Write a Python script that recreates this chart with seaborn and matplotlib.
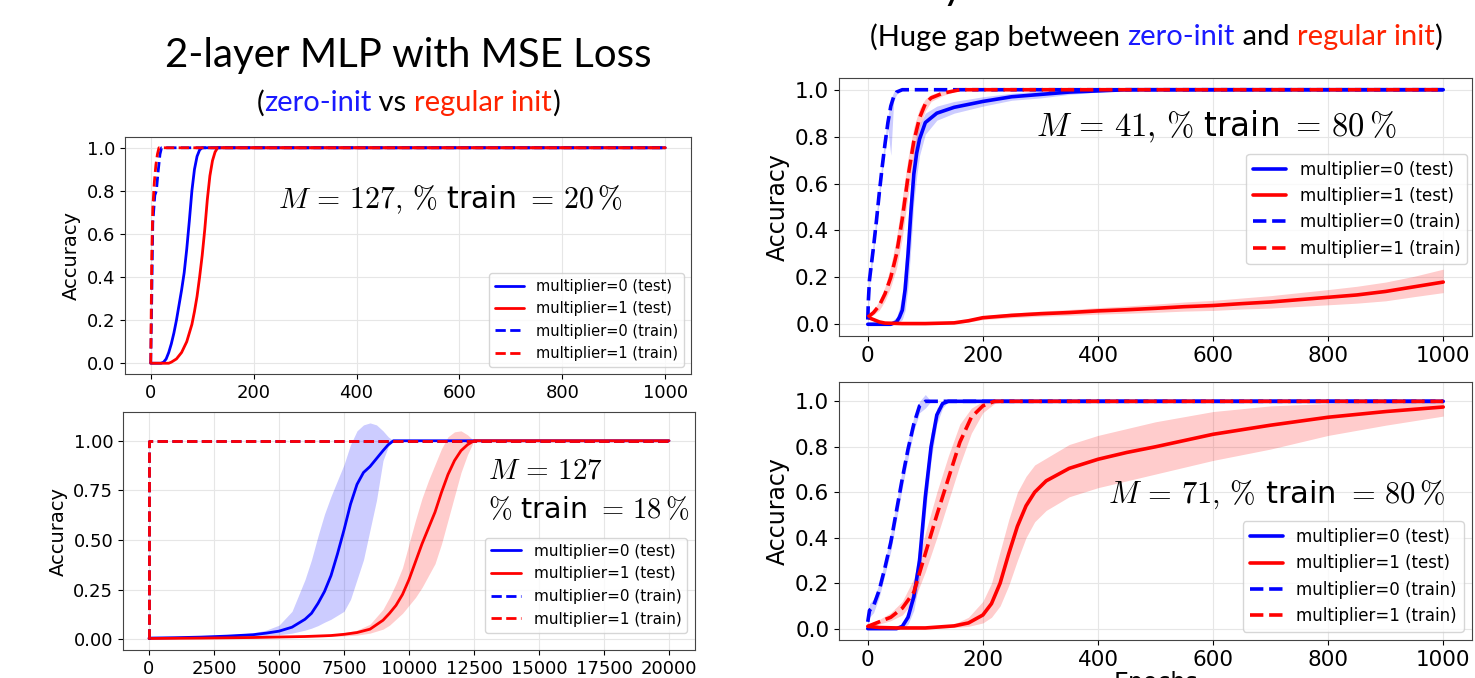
import numpy as np
import pandas as pd
import matplotlib
matplotlib.use("Agg")
import matplotlib.pyplot as plt
import seaborn as sns

# ---------------- data ----------------
# Top-left: 2-layer MLP, MSE, M=127, 20% train
tl_test0_ep = [0, 20, 25, 30, 35, 40, 45, 50, 55, 60, 65, 70, 75, 80, 85, 90, 95, 100, 1000]
tl_test0_acc = [0, 0, 0.005, 0.02, 0.05, 0.09, 0.14, 0.2, 0.27, 0.34, 0.42, 0.53, 0.66, 0.8, 0.9, 0.96, 0.99, 1.0, 1.0]
tl_test1_ep = [0, 35, 40, 50, 60, 70, 75, 80, 85, 90, 95, 100, 105, 110, 115, 120, 125, 130, 1000]
tl_test1_acc = [0, 0, 0.005, 0.02, 0.05, 0.1, 0.14, 0.18, 0.24, 0.31, 0.4, 0.5, 0.62, 0.76, 0.87, 0.94, 0.98, 1.0, 1.0]
tl_train0_ep = [0, 2, 4, 8, 11, 14, 18, 21, 1000]
tl_train0_acc = [0, 0.3, 0.65, 0.78, 0.8, 0.88, 0.97, 1.0, 1.0]
tl_train1_ep = [0, 2, 4, 7, 10, 13, 16, 1000]
tl_train1_acc = [0, 0.5, 0.72, 0.84, 0.92, 0.97, 1.0, 1.0]

# Bottom-left: M=127, 18% train
bl_test0_ep = [0, 1000, 2000, 3000, 4000, 4500, 5000, 5500, 6000, 6250, 6500, 6750, 7000, 7250, 7500, 7750, 8000, 8250, 8500, 8750, 9000, 9200, 9400, 20000]
bl_test0_acc = [0.005, 0.007, 0.01, 0.015, 0.022, 0.03, 0.04, 0.06, 0.1, 0.13, 0.18, 0.24, 0.32, 0.43, 0.55, 0.68, 0.78, 0.84, 0.87, 0.91, 0.95, 0.98, 1.0, 1.0]
bl_test0_hi = [0.005, 0.008, 0.012, 0.02, 0.032, 0.045, 0.07, 0.14, 0.3, 0.4, 0.52, 0.63, 0.72, 0.8, 0.88, 0.98, 1.05, 1.08, 1.09, 1.08, 1.05, 1.02, 1.0, 1.0]
bl_test0_lo = [0.005, 0.006, 0.008, 0.011, 0.015, 0.018, 0.022, 0.03, 0.045, 0.055, 0.068, 0.085, 0.1, 0.12, 0.14, 0.2, 0.3, 0.4, 0.55, 0.7, 0.9, 0.97, 1.0, 1.0]
bl_test1_ep = [0, 2000, 4000, 6000, 7000, 7500, 8000, 8500, 9000, 9250, 9500, 9750, 10000, 10250, 10500, 10750, 11000, 11250, 11500, 11750, 12000, 12250, 12500, 20000]
bl_test1_acc = [0.003, 0.005, 0.008, 0.013, 0.018, 0.024, 0.033, 0.05, 0.095, 0.13, 0.17, 0.225, 0.3, 0.39, 0.48, 0.56, 0.64, 0.74, 0.83, 0.9, 0.95, 0.98, 1.0, 1.0]
bl_test1_hi = [0.003, 0.005, 0.009, 0.016, 0.024, 0.032, 0.045, 0.075, 0.15, 0.21, 0.28, 0.36, 0.48, 0.6, 0.71, 0.8, 0.88, 0.96, 1.02, 1.045, 1.05, 1.03, 1.0, 1.0]
bl_test1_lo = [0.003, 0.005, 0.007, 0.01, 0.013, 0.016, 0.02, 0.03, 0.05, 0.07, 0.1, 0.13, 0.17, 0.21, 0.26, 0.32, 0.38, 0.48, 0.6, 0.72, 0.84, 0.93, 1.0, 1.0]
bl_train_ep = [0, 0, 20000]
bl_train_acc = [0.0, 1.0, 1.0]

# Top-right: M=41, 80% train
tr_train0_ep = [0, 1, 3, 6, 10, 15, 20, 25, 30, 35, 40, 45, 50, 60, 80, 1000]
tr_train0_acc = [0.02, 0.1, 0.19, 0.25, 0.33, 0.44, 0.56, 0.67, 0.77, 0.86, 0.93, 0.97, 0.99, 1.0, 1.0, 1.0]
tr_train0_hi = [0.03, 0.14, 0.22, 0.28, 0.36, 0.47, 0.59, 0.7, 0.8, 0.89, 0.96, 0.99, 1.0, 1.0, 1.0, 1.0]
tr_train0_lo = [0.01, 0.06, 0.16, 0.22, 0.3, 0.41, 0.53, 0.64, 0.74, 0.83, 0.72, 0.95, 0.98, 1.0, 1.0, 1.0]
tr_train1_ep = [0, 10, 20, 30, 40, 50, 60, 70, 80, 90, 100, 110, 130, 160, 200, 1000]
tr_train1_acc = [0.03, 0.05, 0.08, 0.13, 0.2, 0.3, 0.45, 0.63, 0.78, 0.88, 0.94, 0.965, 0.985, 1.0, 1.0, 1.0]
tr_train1_hi = [0.035, 0.06, 0.1, 0.16, 0.25, 0.37, 0.54, 0.71, 0.84, 0.92, 0.96, 0.98, 0.995, 1.0, 1.0, 1.0]
tr_train1_lo = [0.025, 0.04, 0.06, 0.1, 0.16, 0.24, 0.37, 0.55, 0.71, 0.84, 0.91, 0.95, 0.975, 1.0, 1.0, 1.0]
tr_test0_ep = [0, 20, 40, 50, 55, 60, 65, 70, 75, 80, 85, 90, 100, 120, 150, 200, 250, 300, 350, 400, 450, 500, 1000]
tr_test0_acc = [0.0, 0.0, 0.0, 0.01, 0.03, 0.06, 0.15, 0.3, 0.48, 0.64, 0.73, 0.79, 0.86, 0.9, 0.925, 0.95, 0.97, 0.98, 0.99, 0.995, 1.0, 1.0, 1.0]
tr_test0_hi = [0.01, 0.01, 0.01, 0.03, 0.07, 0.13, 0.27, 0.44, 0.6, 0.74, 0.81, 0.85, 0.9, 0.93, 0.95, 0.97, 0.985, 0.995, 1.0, 1.0, 1.0, 1.0, 1.0]
tr_test0_lo = [0.0, 0.0, 0.0, 0.0, 0.01, 0.02, 0.06, 0.16, 0.33, 0.52, 0.63, 0.72, 0.81, 0.87, 0.9, 0.93, 0.955, 0.965, 0.98, 0.99, 1.0, 1.0, 1.0]
tr_test1_ep = [0, 10, 20, 30, 60, 100, 150, 175, 200, 250, 300, 350, 400, 450, 500, 550, 600, 650, 700, 750, 800, 850, 900, 950, 1000]
tr_test1_acc = [0.03, 0.02, 0.01, 0.005, 0.003, 0.003, 0.006, 0.015, 0.028, 0.038, 0.045, 0.05, 0.057, 0.062, 0.068, 0.075, 0.08, 0.088, 0.095, 0.105, 0.115, 0.125, 0.14, 0.16, 0.18]
tr_test1_hi = [0.035, 0.025, 0.015, 0.01, 0.006, 0.006, 0.01, 0.022, 0.036, 0.048, 0.056, 0.063, 0.071, 0.078, 0.086, 0.095, 0.102, 0.112, 0.122, 0.135, 0.148, 0.162, 0.18, 0.205, 0.235]
tr_test1_lo = [0.025, 0.015, 0.006, 0.002, 0.0, 0.0, 0.003, 0.009, 0.02, 0.028, 0.034, 0.038, 0.043, 0.047, 0.051, 0.056, 0.059, 0.065, 0.069, 0.076, 0.083, 0.09, 0.1, 0.118, 0.135]

# Bottom-right: M=71, 80% train
br_train0_ep = [0, 3, 10, 20, 30, 40, 50, 60, 70, 80, 90, 100, 110, 1000]
br_train0_acc = [0.03, 0.08, 0.1, 0.17, 0.27, 0.38, 0.52, 0.66, 0.79, 0.9, 0.98, 1.0, 1.0, 1.0]
br_train0_hi = [0.05, 0.11, 0.13, 0.2, 0.3, 0.42, 0.56, 0.7, 0.83, 0.93, 1.0, 1.03, 1.0, 1.0]
br_train0_lo = [0.01, 0.05, 0.07, 0.14, 0.24, 0.34, 0.48, 0.62, 0.75, 0.87, 0.95, 0.97, 1.0, 1.0]
br_test0_ep = [0, 20, 50, 60, 70, 80, 90, 100, 110, 120, 130, 140, 1000]
br_test0_acc = [0.0, 0.0, 0.0, 0.01, 0.05, 0.14, 0.3, 0.58, 0.8, 0.94, 0.99, 1.0, 1.0]
br_test0_hi = [0.0, 0.0, 0.005, 0.02, 0.08, 0.2, 0.38, 0.66, 0.86, 0.97, 1.0, 1.0, 1.0]
br_test0_lo = [0.0, 0.0, 0.0, 0.0, 0.02, 0.08, 0.22, 0.5, 0.74, 0.9, 0.97, 1.0, 1.0]
br_train1_ep = [0, 20, 40, 60, 80, 100, 120, 140, 160, 180, 200, 220, 240, 1000]
br_train1_acc = [0.01, 0.03, 0.05, 0.09, 0.16, 0.33, 0.5, 0.66, 0.82, 0.93, 0.98, 1.0, 1.0, 1.0]
br_train1_hi = [0.02, 0.04, 0.07, 0.12, 0.22, 0.42, 0.6, 0.76, 0.9, 0.97, 1.0, 1.0, 1.0, 1.0]
br_train1_lo = [0.0, 0.02, 0.035, 0.06, 0.12, 0.25, 0.4, 0.56, 0.72, 0.86, 0.95, 0.99, 1.0, 1.0]
br_test1_ep = [0, 20, 50, 100, 150, 175, 200, 215, 230, 245, 260, 275, 290, 310, 350, 400, 450, 500, 600, 700, 800, 900, 1000]
br_test1_acc = [0.01, 0.005, 0.003, 0.003, 0.012, 0.025, 0.06, 0.11, 0.2, 0.33, 0.45, 0.54, 0.6, 0.65, 0.705, 0.745, 0.775, 0.8, 0.855, 0.895, 0.93, 0.955, 0.975]
br_test1_hi = [0.015, 0.008, 0.006, 0.006, 0.02, 0.05, 0.12, 0.2, 0.34, 0.48, 0.6, 0.67, 0.72, 0.75, 0.81, 0.85, 0.88, 0.91, 0.955, 0.98, 0.99, 1.0, 1.0]
br_test1_lo = [0.005, 0.002, 0.0, 0.0, 0.005, 0.01, 0.025, 0.05, 0.1, 0.19, 0.3, 0.4, 0.47, 0.52, 0.58, 0.62, 0.65, 0.68, 0.74, 0.79, 0.85, 0.895, 0.935]

labels = ["multiplier=0 (test)", "multiplier=1 (test)",
          "multiplier=0 (train)", "multiplier=1 (train)"]

# ---------------- style ----------------
sns.set_style("whitegrid", rc={
    "axes.edgecolor": "#444444",
    "axes.linewidth": 1.0,
    "grid.color": "#e6e6e6",
    "grid.linewidth": 0.9,
    "xtick.bottom": True,
    "ytick.left": True,
    "xtick.major.size": 3.5,
    "ytick.major.size": 3.5,
    "xtick.color": "black",
    "ytick.color": "black",
    "text.color": "black",
    "axes.labelcolor": "black",
})
plt.rcParams["font.family"] = ["DejaVu Sans"]
plt.rcParams["mathtext.fontset"] = "cm"

W, H = 1475, 678
fig = plt.figure(figsize=(W / 100, H / 100), dpi=100)
renderer = fig.canvas.get_renderer()


def px_axes(l, t, r, b):
    return fig.add_axes([l / W, 1 - b / H, (r - l) / W, (b - t) / H])


BLUE, RED = "#0000ff", "#ff0000"


def panel(ax, test0, test1, train0, train1, lw_test, lw_train):
    for (ep, acc, hi, lo), col in ((test0, BLUE), (test1, RED), (train0, BLUE), (train1, RED)):
        if hi is not None:
            ax.fill_between(ep, lo, hi, color=col, alpha=0.2, linewidth=0)
    specs = [(test0, BLUE, "-", lw_test, labels[0]),
             (test1, RED, "-", lw_test, labels[1]),
             (train0, BLUE, "--", lw_train, labels[2]),
             (train1, RED, "--", lw_train, labels[3])]
    for (ep, acc, hi, lo), col, ls, lw, lab in specs:
        sns.lineplot(x=ep, y=acc, ax=ax, color=col, linestyle=ls, linewidth=lw,
                     label=lab, estimator=None, sort=False)


def colored_line(pieces, xc, y, size, family):
    full = ""
    offs = []
    probe = fig.text(0, 0, "x", fontsize=size, family=family)
    wx = probe.get_window_extent(renderer).width
    for s, c in pieces:
        probe.set_text(full + "x")
        offs.append(probe.get_window_extent(renderer).width - wx if full else 0.0)
        full += s
    probe.set_text(full)
    total = probe.get_window_extent(renderer).width
    probe.remove()
    x0 = xc - total / 2
    for (s, c), o in zip(pieces, offs):
        fig.text((x0 + o) / W, 1 - y / H, s, color=c, fontsize=size, family=family,
                 va="center", ha="left")


def mtext(m, pct):
    return (r"$M\,=\,%s,\,\%%$" % m) + " train " + (r"$=\,%s\,\%%$" % pct)


# ---------------- top-left ----------------
ax = px_axes(125, 137, 691, 374)
panel(ax, (tl_test0_ep, tl_test0_acc, None, None), (tl_test1_ep, tl_test1_acc, None, None),
      (tl_train0_ep, tl_train0_acc, None, None), (tl_train1_ep, tl_train1_acc, None, None), 2.0, 2.0)
ax.set_xlim(-50, 1050)
ax.set_ylim(-0.05, 1.05)
ax.set_xticks(np.arange(0, 1001, 200))
ax.set_yticks(np.arange(0, 1.01, 0.2))
ax.set_yticklabels([f"{v:.1f}" for v in np.arange(0, 1.01, 0.2)])
ax.tick_params(labelsize=13)
ax.set_ylabel("Accuracy", fontsize=14)
ax.set_xlabel("")
ax.legend(loc="lower right", fontsize=10.5, framealpha=0.8, edgecolor="#cccccc")
ax.text(583, 0.76, mtext("127", "20"), fontsize=21.5, ha="center", va="center")

# ---------------- bottom-left ----------------
ax = px_axes(123, 412, 695, 650)
panel(ax, (bl_test0_ep, bl_test0_acc, bl_test0_hi, bl_test0_lo),
      (bl_test1_ep, bl_test1_acc, bl_test1_hi, bl_test1_lo),
      (bl_train_ep, bl_train_acc, None, None), (bl_train_ep, bl_train_acc, None, None), 2.0, 2.0)
ax.set_xlim(-1000, 21000)
ax.set_ylim(-0.055, 1.145)
ax.set_xticks(np.arange(0, 20001, 2500))
ax.set_yticks(np.arange(0, 1.01, 0.25))
ax.set_yticklabels([f"{v:.2f}" for v in np.arange(0, 1.01, 0.25)])
ax.tick_params(labelsize=13)
ax.set_ylabel("Accuracy", fontsize=14)
ax.set_xlabel("")
ax.legend(loc="lower right", fontsize=11, framealpha=0.8, edgecolor="#cccccc",
          bbox_to_anchor=(1.0, 0.04))
ax.text(13040, 0.85, r"$M\,=\,127$", fontsize=21, ha="left", va="center")
ax.text(13040, 0.65, r"$\%$" + " train " + r"$=\,18\,\%$", fontsize=20.5, ha="left", va="center")

# ---------------- top-right ----------------
ax = px_axes(839, 78, 1472, 336)
panel(ax, (tr_test0_ep, tr_test0_acc, tr_test0_hi, tr_test0_lo),
      (tr_test1_ep, tr_test1_acc, tr_test1_hi, tr_test1_lo),
      (tr_train0_ep, tr_train0_acc, tr_train0_hi, tr_train0_lo),
      (tr_train1_ep, tr_train1_acc, tr_train1_hi, tr_train1_lo), 2.6, 2.6)
ax.set_xlim(-50, 1050)
ax.set_ylim(-0.05, 1.05)
ax.set_xticks(np.arange(0, 1001, 200))
ax.set_yticks(np.arange(0, 1.01, 0.2))
ax.set_yticklabels([f"{v:.1f}" for v in np.arange(0, 1.01, 0.2)])
ax.tick_params(labelsize=15.5)
ax.set_ylabel("Accuracy", fontsize=17)
ax.set_xlabel("")
ax.legend(loc="upper right", fontsize=12, framealpha=0.8, edgecolor="#cccccc",
          bbox_to_anchor=(1.0, 0.725), borderaxespad=0.3)
ax.text(605, 0.84, mtext("41", "80"), fontsize=23.5, ha="center", va="center")

# ---------------- bottom-right ----------------
ax = px_axes(839, 382, 1472, 640)
panel(ax, (br_test0_ep, br_test0_acc, br_test0_hi, br_test0_lo),
      (br_test1_ep, br_test1_acc, br_test1_hi, br_test1_lo),
      (br_train0_ep, br_train0_acc, br_train0_hi, br_train0_lo),
      (br_train1_ep, br_train1_acc, br_train1_hi, br_train1_lo), 2.6, 2.6)
ax.set_xlim(-50, 1050)
ax.set_ylim(-0.05, 1.085)
ax.set_xticks(np.arange(0, 1001, 200))
ax.set_yticks(np.arange(0, 1.01, 0.2))
ax.set_yticklabels([f"{v:.1f}" for v in np.arange(0, 1.01, 0.2)])
ax.tick_params(labelsize=15.5)
ax.set_ylabel("Accuracy", fontsize=17)
ax.set_xlabel("Epochs", fontsize=17, labelpad=1)
ax.legend(loc="lower right", fontsize=12, framealpha=0.8, edgecolor="#cccccc")
ax.text(711, 0.59, mtext("71", "80"), fontsize=22, ha="center", va="center")

# ---------------- titles ----------------
fig.text(408 / W, 1 - 55 / H, "2-layer MLP with MSE Loss", fontsize=29, family="Lato",
         ha="center", va="center")
colored_line([("(", "black"), ("zero-init", "#1a1aff"), (" vs ", "black"),
              ("regular init", "#ff2200"), (")", "black")], 408, 103, 21, "Lato")
fig.text(1112 / W, 1 + 1 / H, "2-layer MLP with CE Loss", fontsize=31, family="Lato",
         ha="center", va="baseline")
colored_line([("(Huge gap between ", "black"), ("zero-init", "#1a1aff"), (" and ", "black"),
              ("regular init", "#ff2200"), (")", "black")], 1156, 37, 21, "Lato")

fig.savefig("out.png", dpi=100)
